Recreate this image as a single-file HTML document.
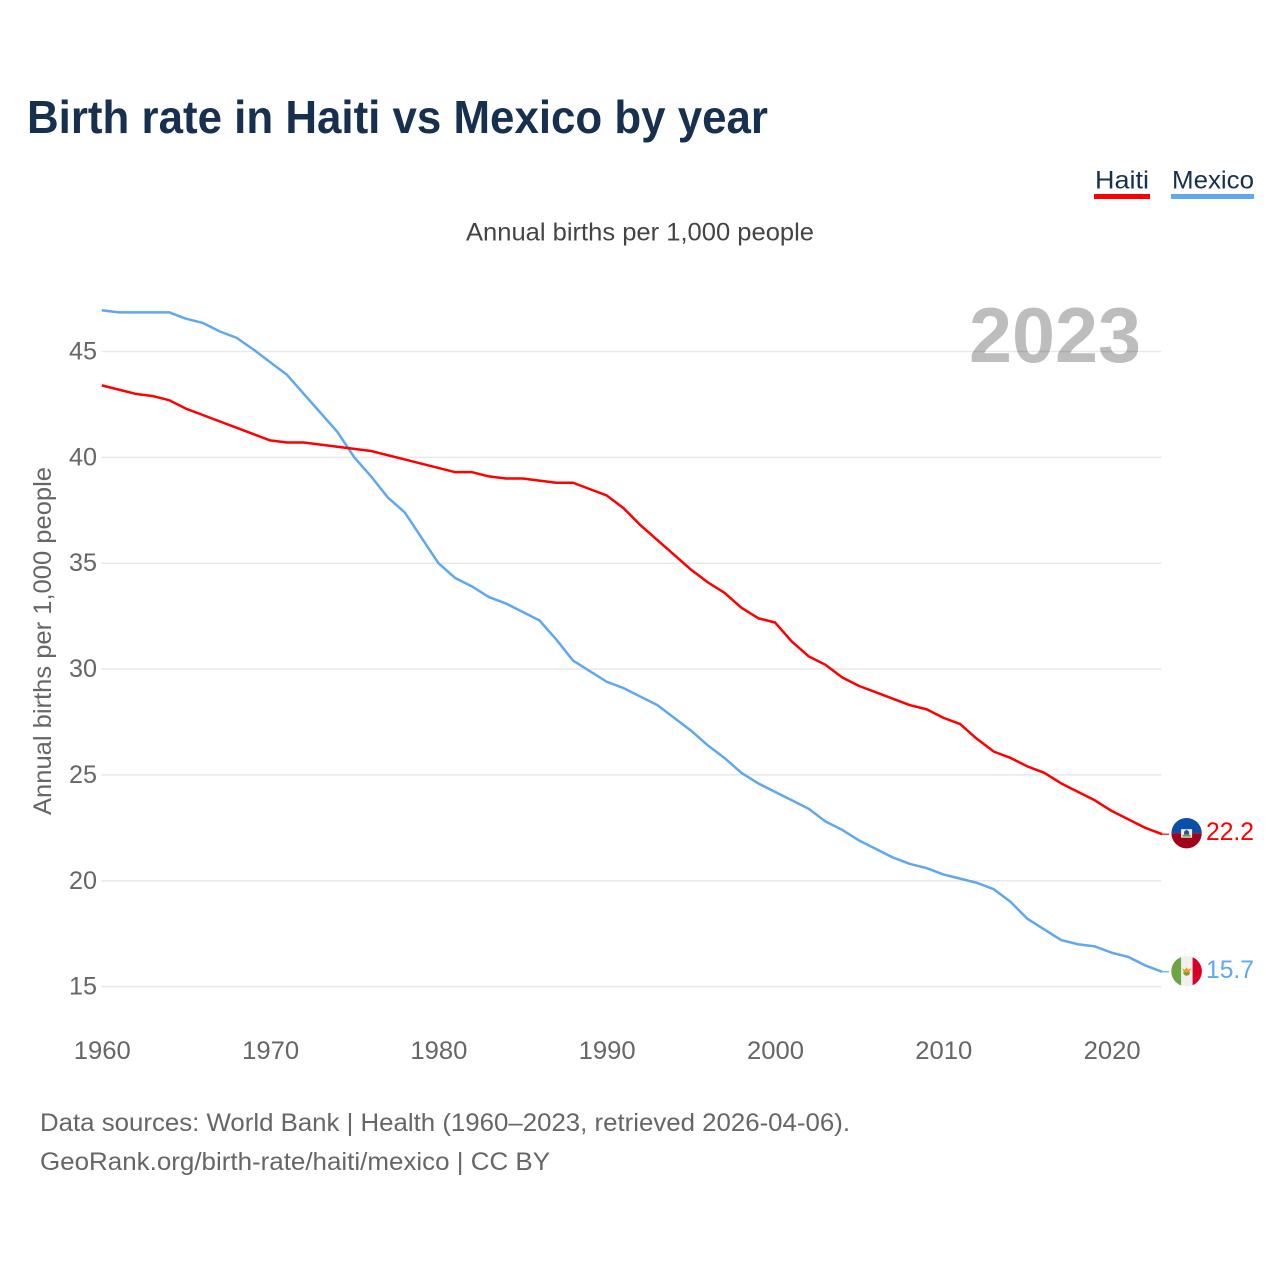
<!DOCTYPE html>
<html lang="en">
<head>
<meta charset="utf-8">
<title>Birth rate in Haiti vs Mexico by year</title>
<style>
html,body{margin:0;padding:0;background:#fff;width:1280px;height:1280px;overflow:hidden}
svg{display:block;font-family:"Liberation Sans",sans-serif}
</style>
</head>
<body>
<svg id="chart" xmlns="http://www.w3.org/2000/svg" width="1280" height="1280" viewBox="0 0 1280 1280">
<rect x="0" y="0" width="1280" height="1280" fill="#ffffff"/>
<text x="27" y="133" font-size="46" font-weight="700" fill="#17304f" textLength="741" lengthAdjust="spacingAndGlyphs">Birth rate in Haiti vs Mexico by year</text>
<g>
<text x="1095" y="188.5" font-size="25" fill="#17304f" textLength="54" lengthAdjust="spacingAndGlyphs">Haiti</text>
<rect x="1094" y="194" width="56" height="5" fill="#ff0000"/>
</g>
<g>
<text x="1172" y="188.5" font-size="25" fill="#17304f" textLength="82" lengthAdjust="spacingAndGlyphs">Mexico</text>
<rect x="1171" y="194" width="83" height="5" fill="#5fa8ee"/>
</g>
<text x="466" y="240.5" font-size="25" fill="#444444" textLength="348" lengthAdjust="spacingAndGlyphs">Annual births per 1,000 people</text>
<text x="969" y="362" font-size="78" font-weight="700" fill="#bdbdbd" textLength="172" lengthAdjust="spacingAndGlyphs">2023</text>
<g id="grid"></g>
<g id="yticks"></g>
<g id="xticks"></g>
<text transform="translate(51,815) rotate(-90)" font-size="25" fill="#666666" textLength="348" lengthAdjust="spacingAndGlyphs">Annual births per 1,000 people</text>
<g id="series"></g>
<g id="endmarks"></g>
<text x="40" y="1131" font-size="25" fill="#666666" textLength="810" lengthAdjust="spacingAndGlyphs">Data sources: World Bank | Health (1960–2023, retrieved 2026-04-06).</text>
<text x="40" y="1170" font-size="25" fill="#666666" textLength="510" lengthAdjust="spacingAndGlyphs">GeoRank.org/birth-rate/haiti/mexico | CC BY</text>
</svg>
<script>
const startYear = 1960;
const haitiValues = [43.4,43.2,43.0,42.9,42.7,42.3,42.0,41.7,41.4,41.1,40.8,40.7,40.7,40.6,40.5,40.4,40.3,40.1,39.9,39.7,39.5,39.3,39.3,39.1,39.0,39.0,38.9,38.8,38.8,38.5,38.2,37.6,36.8,36.1,35.4,34.7,34.1,33.6,32.9,32.4,32.2,31.3,30.6,30.2,29.6,29.2,28.9,28.6,28.3,28.1,27.7,27.4,26.7,26.1,25.8,25.4,25.1,24.6,24.2,23.8,23.3,22.9,22.5,22.2];
const mexicoValues = [46.95,46.85,46.85,46.85,46.85,46.55,46.35,45.95,45.65,45.1,44.5,43.9,43.0,42.1,41.2,40.0,39.1,38.1,37.4,36.2,35.0,34.3,33.9,33.4,33.1,32.7,32.3,31.4,30.4,29.9,29.4,29.1,28.7,28.3,27.7,27.1,26.4,25.8,25.1,24.6,24.2,23.8,23.4,22.8,22.4,21.9,21.5,21.1,20.8,20.6,20.3,20.1,19.9,19.6,19.0,18.2,17.7,17.2,17.0,16.9,16.6,16.4,16.0,15.7];
const yTickValues = [45,40,35,30,25,20,15];
const xTickYears = [1960,1970,1980,1990,2000,2010,2020];

const NS = 'http://www.w3.org/2000/svg';
function xScale(year){ return 101.8 + (year - 1960) * 16.83; }
function yScale(v){ return 351.5 + (45 - v) * 21.17; }
function make(tag, attrs, parent, text){
  const el = document.createElementNS(NS, tag);
  for (const k in attrs) el.setAttribute(k, attrs[k]);
  if (text !== undefined) el.textContent = text;
  parent.appendChild(el);
  return el;
}

const grid = document.getElementById('grid');
const yticks = document.getElementById('yticks');
yTickValues.forEach(function(v){
  const line = make('line', {x1:101.5, x2:1161.5, y1:yScale(v), y2:yScale(v), stroke:'#000', 'stroke-opacity':0.09, 'stroke-width':1.5}, grid);
  
  
  const label = make('text', {x:97, y:yScale(v) + 8, 'font-size':25, fill:'#666666', 'text-anchor':'end', textLength:28, lengthAdjust:'spacingAndGlyphs'}, yticks, String(v));
  
  
});

const xticks = document.getElementById('xticks');
xTickYears.forEach(function(y){
  const label = make('text', {x:xScale(y) + 0.5, y:1059, 'font-size':25, fill:'#666666', 'text-anchor':'middle', textLength:57, lengthAdjust:'spacingAndGlyphs'}, xticks, String(y));
  
  
});

function pathFor(values){
  return values.map(function(v,i){
    return (i ? 'L' : 'M') + xScale(startYear + i).toFixed(2) + ' ' + yScale(v).toFixed(2);
  }).join(' ');
}
const series = document.getElementById('series');
const mexicoLine = make('path', {d:pathFor(mexicoValues), fill:'none', stroke:'#5fa8ee', 'stroke-width':2.5, 'stroke-linejoin':'round'}, series);


const haitiLine = make('path', {d:pathFor(haitiValues), fill:'none', stroke:'#ff0000', 'stroke-width':2.5, 'stroke-linejoin':'round'}, series);



const endmarks = document.getElementById('endmarks');
const lastYear = startYear + haitiValues.length - 1;
const markerX = xScale(lastYear);

// Haiti end marker
const haitiEndY = yScale(haitiValues[haitiValues.length - 1]);
const haitiGroup = make('g', {}, endmarks);


const haitiStub = make('line', {x1:markerX, x2:markerX + 7, y1:haitiEndY, y2:haitiEndY, stroke:'#ff0000', 'stroke-width':1.2}, haitiGroup);


const hfy = haitiEndY - 1, fx = markerX + 24.5, fr = 15.2;
const haitiFlag = make('g', {}, haitiGroup);


make('path', {d:'M' + (fx-fr) + ' ' + hfy + 'A' + fr + ' ' + fr + ' 0 0 1 ' + (fx+fr) + ' ' + hfy + 'Z', fill:'#0a4fa8'}, haitiFlag);
make('path', {d:'M' + (fx-fr) + ' ' + hfy + 'A' + fr + ' ' + fr + ' 0 0 0 ' + (fx+fr) + ' ' + hfy + 'Z', fill:'#a2001d'}, haitiFlag);
make('rect', {x:fx-5.5, y:hfy-4, width:11, height:8.5, fill:'#f0f0f0'}, haitiFlag);
make('path', {d:'M' + (fx-2.5) + ' ' + (hfy+1.5) + 'V' + (hfy-1.5) + 'L' + fx + ' ' + (hfy-3.5) + 'L' + (fx+2.5) + ' ' + (hfy-1.5) + 'V' + (hfy+1.5) + 'Z', fill:'#33508f'}, haitiFlag);
make('rect', {x:fx-4, y:hfy+1.5, width:8, height:2, fill:'#6da544'}, haitiFlag);
const haitiValueLabel = make('text', {x:1254, y:haitiEndY + 6, 'font-size':25, fill:'#ff0000', 'text-anchor':'end', textLength:48, lengthAdjust:'spacingAndGlyphs'}, haitiGroup, haitiValues[haitiValues.length - 1].toFixed(1));



// Mexico end marker
const mexicoEndY = yScale(mexicoValues[mexicoValues.length - 1]);
const mexicoGroup = make('g', {}, endmarks);


const mexicoStub = make('line', {x1:markerX, x2:markerX + 7, y1:mexicoEndY, y2:mexicoEndY, stroke:'#5fa8ee', 'stroke-width':1.2}, mexicoGroup);


const mfy = mexicoEndY - 0.5;
const mexicoFlag = make('g', {}, mexicoGroup);


make('circle', {cx:fx, cy:mfy, r:fr, fill:'#f0f0f0'}, mexicoFlag);
make('path', {d:'M' + (fx-5.5) + ' ' + (mfy-14.2) + 'A' + fr + ' ' + fr + ' 0 0 0 ' + (fx-5.5) + ' ' + (mfy+14.2) + 'Z', fill:'#6da544'}, mexicoFlag);
make('path', {d:'M' + (fx+6) + ' ' + (mfy-14) + 'A' + fr + ' ' + fr + ' 0 0 1 ' + (fx+6) + ' ' + (mfy+14) + 'Z', fill:'#d80027'}, mexicoFlag);
make('path', {d:'M' + (fx-4.5) + ' ' + (mfy-3) + 'L' + (fx-1.5) + ' ' + (mfy-1.5) + 'L' + fx + ' ' + (mfy-4) + 'L' + (fx+1.5) + ' ' + (mfy-1.5) + 'L' + (fx+4.5) + ' ' + (mfy-3) + 'L' + (fx+2.5) + ' ' + (mfy+1.5) + 'H' + (fx-2.5) + 'Z', fill:'#ff9811'}, mexicoFlag);
make('path', {d:'M' + (fx-3.5) + ' ' + (mfy+1) + 'A3.5 3.5 0 0 0 ' + (fx+3.5) + ' ' + (mfy+1) + 'Z', fill:'#6da544'}, mexicoFlag);
const mexicoValueLabel = make('text', {x:1254, y:mexicoEndY + 6, 'font-size':25, fill:'#5fa8ee', 'text-anchor':'end', textLength:48, lengthAdjust:'spacingAndGlyphs'}, mexicoGroup, mexicoValues[mexicoValues.length - 1].toFixed(1));


</script>
</body>
</html>
